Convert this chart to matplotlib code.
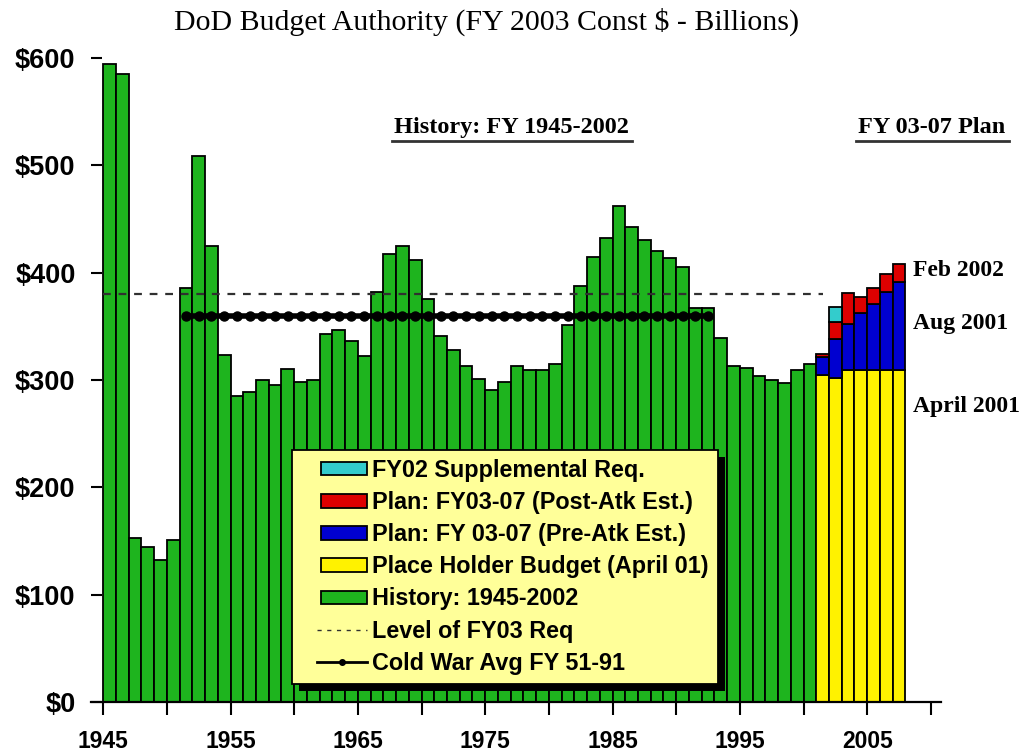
import matplotlib
matplotlib.use('Agg')
import matplotlib.pyplot as plt
from matplotlib.patches import Patch, Rectangle
from matplotlib.lines import Line2D
from matplotlib.legend_handler import HandlerPatch, HandlerLine2D
import numpy as np

# history 1945-2000 (FY 2003 const $B)
hist_years = list(range(1945, 2001))
hist_vals = [594, 585, 153, 144, 132, 151, 386, 509, 425, 323,
             285, 289, 300, 295, 310, 298, 300, 343, 347, 336,
             322, 382, 417, 425, 412, 375, 341, 328, 313, 301,
             291, 298, 313, 309, 309, 315, 351, 388, 415, 432,
             462, 443, 430, 420, 414, 405, 367, 367, 339, 313,
             311, 304, 300, 297, 309, 315]

# plan years, stacked pieces
plan_years = list(range(2001, 2008))
placeholder = [305, 302, 309, 309, 309, 309, 309]
pre_atk = [16, 36, 43, 53, 62, 73, 82]
post_atk = [3, 16, 29, 15, 15, 17, 17]
supplemental = [0, 14, 0, 0, 0, 0, 0]

fy03_level = 380
cold_war_years = list(range(1951, 1993))
cold_war_avg = 360

green = '#1EB41E'
yellow = '#FFF200'
blue = '#0000D0'
red = '#DD0000'
cyan = '#33CCCC'

fig = plt.figure(figsize=(10.21, 7.55), dpi=100)
ax = fig.add_axes([0.0896, 0.0702, 0.8317, 0.853])

bar_kw = dict(width=1, align='edge', edgecolor='black', linewidth=1.3, zorder=2)
ax.bar(hist_years, hist_vals, color=green, **bar_kw)

b1 = np.array(placeholder)
b2 = b1 + np.array(pre_atk)
b3 = b2 + np.array(post_atk)
ax.bar(plan_years, placeholder, color=yellow, **bar_kw)
ax.bar(plan_years, pre_atk, bottom=b1, color=blue, **bar_kw)
ax.bar(plan_years, post_atk, bottom=b2, color=red, **bar_kw)
sup = np.array(supplemental)
ax.bar(np.array(plan_years)[sup > 0], sup[sup > 0], bottom=b3[sup > 0], color=cyan, **bar_kw)

# level of FY03 request
ax.plot([hist_years[0], plan_years[0] + 0.5], [fy03_level, fy03_level],
        color='#303030', lw=1.6, dashes=(3.5, 3.5), zorder=3)
# cold war average
cw_x = np.array(cold_war_years) + 0.5
ax.plot(cw_x, [cold_war_avg] * len(cw_x), color='black', lw=4, marker='o',
        markersize=6.5, zorder=4)

ax.set_xlim(1944.08, 2010.77)
ax.set_ylim(0, 600)

for s in ['top', 'right', 'left']:
    ax.spines[s].set_visible(False)
ax.spines['bottom'].set_linewidth(1.6)

ax.set_yticks(range(0, 601, 100))
ax.set_yticklabels(['$' + str(v) for v in range(0, 601, 100)],
                   fontfamily='Liberation Sans', fontweight='bold', fontsize=19.5)
ax.tick_params(axis='y', direction='in', length=8, width=1.5, pad=11.5)

ax.set_xticks(range(1945, 2006, 10))
ax.set_xticks(range(1950, 2011, 10), minor=True)
ax.set_xticklabels([str(y) for y in range(1945, 2006, 10)],
                   fontfamily='Liberation Sans', fontweight='bold', fontsize=16.5)
ax.tick_params(axis='x', which='both', direction='out', length=9, width=1.5, pad=11)

fig.text(0.477, 0.971, 'DoD Budget Authority (FY 2003 Const $ - Billions)',
         ha='center', va='center', fontfamily='Liberation Serif', fontsize=21.5)

hdr = dict(fontfamily='Liberation Serif', fontweight='bold', fontsize=17.5)
side = dict(fontfamily='Liberation Serif', fontweight='bold', fontsize=17)
t_hist = ax.text(1977.1, 535, 'History: FY 1945-2002', ha='center', va='center', **hdr)
t_plan = ax.text(2010.1, 535, 'FY 03-07 Plan', ha='center', va='center', clip_on=False, **hdr)
ax.text(2008.6, 402, 'Feb 2002', ha='left', va='center', clip_on=False, **side)
ax.text(2008.6, 353, 'Aug 2001', ha='left', va='center', clip_on=False, **side)
ax.text(2008.6, 275, 'April 2001', ha='left', va='center', clip_on=False, **side)


# legend keys sit at the right end of a wider handle box
def patch_key(legend, orig_handle, xdescent, ydescent, width, height, fontsize):
    w = 33
    return Rectangle((-xdescent + width - w, -ydescent), w, height)


class RightLine(HandlerLine2D):
    def get_xdata(self, legend, xdescent, ydescent, width, height, fontsize):
        x0 = -xdescent + width - 36
        x1 = -xdescent + width
        return np.array([x0, x1]), np.array([(x0 + x1) / 2])


handles = [
    Patch(facecolor=cyan, edgecolor='black', lw=1.3),
    Patch(facecolor=red, edgecolor='black', lw=1.3),
    Patch(facecolor=blue, edgecolor='black', lw=1.3),
    Patch(facecolor=yellow, edgecolor='black', lw=1.3),
    Patch(facecolor=green, edgecolor='black', lw=1.3),
    Line2D([], [], color='#303030', lw=1, dashes=(3, 4)),
    Line2D([], [], color='black', lw=2, marker='o', markersize=4),
]
labels = ['FY02 Supplemental Req.', 'Plan: FY03-07 (Post-Atk Est.)',
          'Plan: FY 03-07 (Pre-Atk Est.)', 'Place Holder Budget (April 01)',
          'History: 1945-2002', 'Level of FY03 Req', 'Cold War Avg FY 51-91']
leg = ax.legend(handles, labels, loc='upper left', bbox_to_anchor=(0.236, 0.391),
                borderaxespad=0, fancybox=False, framealpha=1, facecolor='#FFFF99',
                edgecolor='black', numpoints=1, handlelength=2.85, handleheight=0.5,
                handletextpad=0.22, labelspacing=0.39, borderpad=0.38,
                handler_map={Patch: HandlerPatch(patch_func=patch_key), Line2D: RightLine()},
                prop={'family': 'Liberation Sans', 'weight': 'bold', 'size': 16.8})
leg.get_frame().set_linewidth(1.3)
leg.set_zorder(6)

fig.canvas.draw()
inv = fig.transFigure.inverted()

# legend drop shadow
bb = leg.get_frame().get_window_extent()
ax.add_artist(Rectangle((bb.x0 + 7, bb.y0 - 7), bb.width, bb.height,
                        transform=matplotlib.transforms.IdentityTransform(),
                        facecolor='black', edgecolor='none', zorder=5.5))

# underlines
for t in [t_hist, t_plan]:
    tb = t.get_window_extent().transformed(inv)
    fig.add_artist(Line2D([tb.x0 - 0.002, tb.x1 + 0.003], [tb.y0 - 0.003, tb.y0 - 0.003],
                          transform=fig.transFigure, color='#333333', lw=2))

fig.savefig('out.png', dpi=100)
